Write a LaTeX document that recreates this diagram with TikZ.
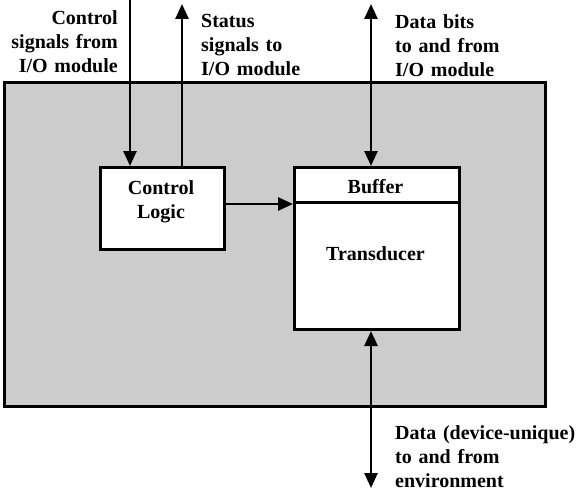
\documentclass[tikz,border=0pt]{standalone}
\usepackage{fontspec}
\setmainfont[WordSpace=1.35]{Liberation Serif}
\usetikzlibrary{arrows.meta}
\definecolor{devgray}{RGB}{204,204,204}
\tikzset{
  blk/.style={draw, line width=3pt, fill=white, inner sep=0pt},
  lbl/.style={font=\bfseries\fontsize{20}{24}\selectfont, inner sep=0pt},
  sig/.style={line width=2.6pt, -{Triangle[length=15pt,width=13pt]}},
  bisig/.style={line width=2.6pt, {Triangle[length=15pt,width=13pt]}-{Triangle[length=15pt,width=13pt]}},
}
\begin{document}
\begin{tikzpicture}[x=1pt,y=-1pt]
  \useasboundingbox (0,0) rectangle (578,500);
  % device housing
  \draw[line width=3pt, fill=devgray] (4,83) rectangle (545,406);
  % blocks
  \node[blk, anchor=north west, minimum width=124pt, minimum height=82pt] (ctl) at (99,166) {};
  \node[blk, anchor=north west, minimum width=165pt, minimum height=35pt] (buf) at (293,166) {};
  \node[blk, anchor=north west, minimum width=165pt, minimum height=127pt] (trans) at (293,201) {};
  \node[lbl, align=center, anchor=north] (ctltxt) at (161,180.5) {Control\\Logic};
  \node[lbl, anchor=north] (buftxt) at (375.5,179.5) {Buffer};
  \node[lbl, anchor=north] (transtxt) at (375.5,246.5) {Transducer};
  % free ends
  \coordinate (cin) at (130,0);
  \coordinate (sout) at (182,4);
  \coordinate (dtop) at (371,4);
  \coordinate (dbot) at (371,488);
  % connectors
  \draw[sig] (cin) -- (cin |- ctl.north);
  \draw[sig] (sout |- ctl.north) -- (sout);
  \draw[sig] (ctl.east |- buf.south west) -- (buf.south west);
  \draw[bisig] (dtop) -- (dtop |- buf.north);
  \draw[bisig] (dbot |- trans.south) -- (dbot);
  % labels
  \node[lbl, align=right, anchor=north east] (cinlbl) at (118,10.5) {Control\\signals from\\I/O module};
  \node[lbl, align=left, anchor=north west] (soutlbl) at (201,14.5) {Status\\signals to\\I/O module};
  \node[lbl, align=left, anchor=north west] (dtoplbl) at (395,14.5) {Data bits\\to and from\\I/O module};
  \node[lbl, align=left, anchor=north west] (dbotlbl) at (395,425) {Data (device-unique)\\to and from\\environment};
\end{tikzpicture}
\end{document}
